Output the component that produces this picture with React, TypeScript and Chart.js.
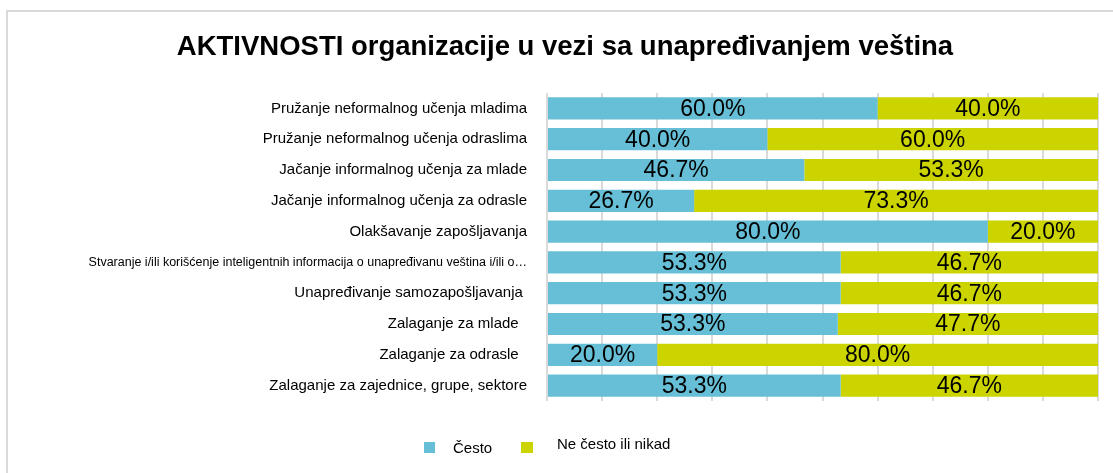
import React, { useEffect, useRef } from "react";
import { Chart, registerables } from "chart.js";

Chart.register(...registerables);

const TITLE = "AKTIVNOSTI organizacije u vezi sa unapređivanjem veština";

const categories = [
  "Pružanje neformalnog učenja mladima",
  "Pružanje neformalnog učenja odraslima",
  "Jačanje informalnog učenja za mlade",
  "Jačanje informalnog učenja za odrasle",
  "Olakšavanje zapošljavanja",
  "Stvaranje i/ili korišćenje inteligentnih informacija o unapređivanu veština i/ili o…",
  "Unapređivanje samozapošljavanja ",
  "Zalaganje za mlade  ",
  "Zalaganje za odrasle  ",
  "Zalaganje za zajednice, grupe, sektore",
];

const seriesNames = ["Često", "Ne često ili nikad"];

const cestoValues = [60.0, 40.0, 46.7, 26.7, 80.0, 53.3, 53.3, 53.3, 20.0, 53.3];
const neCestoValues = [40.0, 60.0, 53.3, 73.3, 20.0, 46.7, 46.7, 47.7, 80.0, 46.7];

const colors = ["#66BFD6", "#CCD400"];

const FONT = '"Liberation Sans", Arial, sans-serif';

export default function App() {
  const canvasRef = useRef<HTMLCanvasElement | null>(null);

  useEffect(() => {
    if (!canvasRef.current) return;
    const raw = [cestoValues, neCestoValues];
    const totals = cestoValues.map((v, i) => v + neCestoValues[i]);
    const share = (arr: number[]) => arr.map((v, i) => (v / totals[i]) * 100);

    const labelPlugin = {
      id: "segLabels",
      afterDatasetsDraw(chart: any) {
        const ctx = chart.ctx;
        ctx.save();
        ctx.font = `23px ${FONT}`;
        ctx.fillStyle = "#000";
        ctx.textAlign = "center";
        ctx.textBaseline = "middle";
        chart.data.datasets.forEach((ds: any, di: number) => {
          const meta = chart.getDatasetMeta(di);
          meta.data.forEach((el: any, i: number) => {
            const { x, base, y } = el.getProps(["x", "base", "y"], true);
            const cx = (x + base) / 2;
            ctx.fillText(raw[di][i].toFixed(1) + "%", cx, y + 1);
          });
        });
        ctx.restore();
      },
    };

    const chart = new Chart(canvasRef.current, {
      type: "bar",
      data: {
        labels: categories,
        datasets: [
          {
            label: seriesNames[0],
            data: share(cestoValues),
            backgroundColor: colors[0],
            barPercentage: 0.72,
            categoryPercentage: 1,
          },
          {
            label: seriesNames[1],
            data: share(neCestoValues),
            backgroundColor: colors[1],
            barPercentage: 0.72,
            categoryPercentage: 1,
          },
        ],
      },
      options: {
        indexAxis: "y",
        animation: false,
        responsive: false,
        maintainAspectRatio: false,
        layout: { padding: { left: 0, right: 15, top: 93, bottom: 72 } },
        plugins: {
          legend: { display: false },
          title: { display: false },
          tooltip: { enabled: false },
        },
        scales: {
          x: {
            stacked: true,
            min: 0,
            max: 100,
            ticks: { display: false, stepSize: 10 },
            grid: { color: "#dadada", lineWidth: 2, drawTicks: false },
            border: { display: false },
            afterFit: (scale: any) => {
              scale.height = 0;
            },
          },
          y: {
            stacked: true,
            grid: { display: false, drawTicks: false },
            border: { display: false },
            ticks: {
              padding: 20,
              color: "#000",
              autoSkip: false,
              font: (c: any) =>
                c.index === 5 ? { size: 12.5, family: FONT } : { size: 15, family: FONT },
            },
            afterFit: (scale: any) => {
              scale.width = 547;
            },
          },
        },
      },
      plugins: [labelPlugin],
    });
    return () => chart.destroy();
  }, []);

  return (
    <div
      style={{
        position: "absolute",
        left: 0,
        top: 0,
        width: 1113,
        height: 473,
        background: "#fff",
        overflow: "hidden",
        fontFamily: FONT,
      }}
    >
      <div
        style={{
          position: "absolute",
          left: 6,
          top: 10,
          right: 0,
          bottom: 0,
          borderTop: "2px solid #d9d9d9",
          borderLeft: "2px solid #d9d9d9",
        }}
      />
      <canvas
        ref={canvasRef}
        width={1113}
        height={473}
        style={{ position: "absolute", left: 0, top: 0, width: 1113, height: 473 }}
      />
      <div
        style={{
          position: "absolute",
          left: 115,
          width: 900,
          top: 29,
          textAlign: "center",
          fontWeight: "bold",
          fontSize: 27.5,
          lineHeight: "34px",
          color: "#000",
          whiteSpace: "nowrap",
        }}
      >
        {TITLE}
      </div>
      <div
        style={{
          position: "absolute",
          left: 424,
          top: 437,
          fontSize: 15,
          lineHeight: "18px",
          color: "#000",
          whiteSpace: "nowrap",
        }}
      >
        <span
          style={{
            position: "absolute",
            left: 0,
            top: 5,
            width: 11,
            height: 11,
            background: colors[0],
          }}
        />
        <span style={{ position: "absolute", left: 29, top: 2 }}>{seriesNames[0]}</span>
        <span
          style={{
            position: "absolute",
            left: 97,
            top: 5,
            width: 12,
            height: 11,
            background: colors[1],
          }}
        />
        <span style={{ position: "absolute", left: 133, top: -2 }}>{seriesNames[1]}</span>
      </div>
    </div>
  );
}
